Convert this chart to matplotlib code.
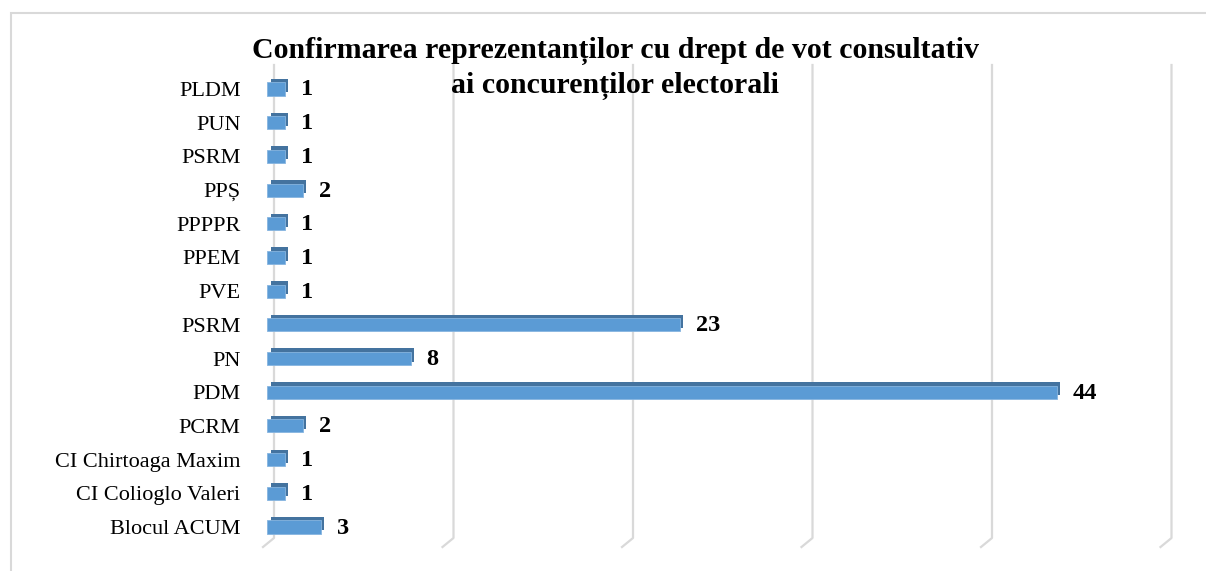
import matplotlib as mpl
import matplotlib.pyplot as plt
from matplotlib.lines import Line2D
from matplotlib.patches import Rectangle
from matplotlib.transforms import ScaledTranslation, IdentityTransform

mpl.rcParams.update({
    "font.family": ["Liberation Serif", "DejaVu Serif"],
    "font.size": 16,
})

# data, bottom to top
categories = ["Blocul ACUM", "CI Colioglo Valeri", "CI Chirtoaga Maxim", "PCRM",
              "PDM", "PN", "PSRM", "PVE", "PPEM", "PPPPR", "PPȘ", "PSRM", "PUN", "PLDM"]
values = [3, 1, 1, 2, 44, 8, 23, 1, 1, 1, 2, 1, 1, 1]
grid_vals = [0, 10, 20, 30, 40, 50]
title_lines = ["Confirmarea reprezentanților cu drept de vot consultativ",
               "ai concurenților electorali"]

W, H = 1206, 571
fig = plt.figure(figsize=(W / 100, H / 100), dpi=100)
fig.patch.set_facecolor("white")

# outer chart border (only top/left visible in crop)
fig.add_artist(Rectangle((11 / W, -0.1), 1.2, (H - 13) / H + 0.1, transform=fig.transFigure,
                         fill=False, ec="#D9D9D9", lw=1.5))

ax = fig.add_axes([267 / W, (H - 543.85) / H, 897.5 / W, 471.7 / H])
ax.patch.set_visible(False)
ax.set_zorder(2)
ax.set_xlim(0, 50)
ax.set_ylim(-0.5, len(categories) - 0.5)
for s in ax.spines.values():
    s.set_visible(False)
ax.set_xticks([])
ax.set_yticks(range(len(categories)))
ax.set_yticklabels(categories, fontsize=16)
ax.tick_params(axis="y", length=0, pad=19)

ypos = list(range(len(categories)))
bh = 0.39

# depth faces (top + side), shifted up/right behind the front face
depth = ax.transData + ScaledTranslation(0.035, 0.035, fig.dpi_scale_trans)
ax.barh(ypos, values, height=bh, color="#44739F", edgecolor="none",
        transform=depth, zorder=2)
# front face
ax.barh(ypos, values, height=bh, color="#5B9BD5", edgecolor="#86B5E0", lw=0.6, zorder=3)

for y, v in zip(ypos, values):
    ax.annotate(str(v), (v, y), xytext=(16, -1), textcoords="offset pixels",
                ha="left", va="center", fontsize=17.5, fontweight="bold", zorder=4)

# back-wall gridlines with floor corner
fig.canvas.draw()
for g in grid_vals:
    x, _ = ax.transData.transform((g, 0))
    xb = x + 7
    fig.add_artist(Line2D([xb, xb, xb - 11], [H - 65, H - 538, H - 547],
                          transform=IdentityTransform(), color="#D9D9D9", lw=1.6, zorder=1))

fig.text(615 / W, 1 - 51 / H, title_lines[0], ha="center", va="center", fontsize=21.5,
         fontweight="bold")
fig.text(615 / W, 1 - 86 / H, title_lines[1], ha="center", va="center", fontsize=21.5,
         fontweight="bold")

fig.savefig("out.png", dpi=100, facecolor="white")
